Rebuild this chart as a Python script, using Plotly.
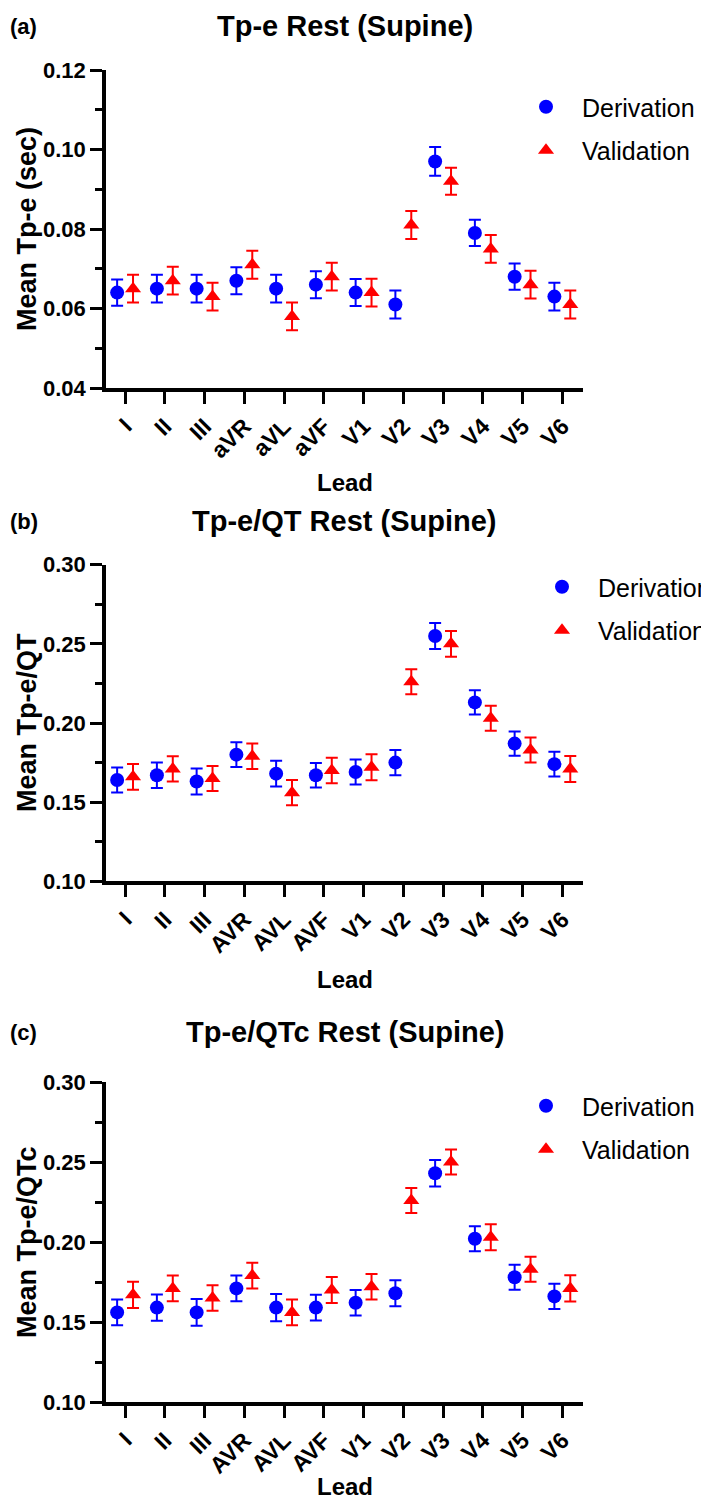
import plotly.graph_objects as go

# ---------------- data ----------------
leads_a = ["I", "II", "III", "aVR", "aVL", "aVF", "V1", "V2", "V3", "V4", "V5", "V6"]
leads_bc = ["I", "II", "III", "AVR", "AVL", "AVF", "V1", "V2", "V3", "V4", "V5", "V6"]

tpe_der = [0.064, 0.065, 0.065, 0.067, 0.065, 0.066, 0.064, 0.061, 0.097, 0.079, 0.068, 0.063]
tpe_der_err = [0.0033, 0.0035, 0.0035, 0.0034, 0.0035, 0.0034, 0.0034, 0.0035, 0.0036, 0.0033, 0.0033, 0.0035]
tpe_val = [0.065, 0.067, 0.063, 0.071, 0.058, 0.068, 0.064, 0.081, 0.092, 0.075, 0.066, 0.061]
tpe_val_err = [0.0035, 0.0035, 0.0035, 0.0035, 0.0035, 0.0035, 0.0035, 0.0035, 0.0034, 0.0035, 0.0035, 0.0035]

qt_der = [0.164, 0.167, 0.163, 0.180, 0.168, 0.167, 0.169, 0.175, 0.255, 0.213, 0.187, 0.174]
qt_der_err = [0.0079, 0.0081, 0.0082, 0.0078, 0.0081, 0.0078, 0.0079, 0.0080, 0.0082, 0.0077, 0.0077, 0.0078]
qt_val = [0.166, 0.171, 0.165, 0.179, 0.156, 0.170, 0.172, 0.226, 0.250, 0.203, 0.183, 0.171]
qt_val_err = [0.0081, 0.0080, 0.0079, 0.0081, 0.0080, 0.0080, 0.0082, 0.0079, 0.0081, 0.0079, 0.0079, 0.0082]

qtc_der = [0.156, 0.159, 0.156, 0.171, 0.159, 0.159, 0.162, 0.168, 0.243, 0.202, 0.178, 0.166]
qtc_der_err = [0.0080, 0.0082, 0.0084, 0.0081, 0.0085, 0.0081, 0.0080, 0.0081, 0.0083, 0.0078, 0.0078, 0.0079]
qtc_val = [0.167, 0.171, 0.165, 0.179, 0.156, 0.170, 0.172, 0.226, 0.250, 0.203, 0.183, 0.171]
qtc_val_err = [0.0082, 0.0080, 0.0080, 0.0081, 0.0081, 0.0081, 0.0080, 0.0078, 0.0078, 0.0081, 0.0078, 0.0082]

panels = [
    dict(tag="(a)", title="Tp-e Rest (Supine)", ytitle="Mean Tp-e (sec)", leads=leads_a,
         der=tpe_der, der_err=tpe_der_err, val=tpe_val, val_err=tpe_val_err,
         yrange=[0.04, 0.12], dtick=0.02, minor=0.01),
    dict(tag="(b)", title="Tp-e/QT Rest (Supine)", ytitle="Mean Tp-e/QT", leads=leads_bc,
         der=qt_der, der_err=qt_der_err, val=qt_val, val_err=qt_val_err,
         yrange=[0.10, 0.30], dtick=0.05, minor=0.025),
    dict(tag="(c)", title="Tp-e/QTc Rest (Supine)", ytitle="Mean Tp-e/QTc", leads=leads_bc,
         der=qtc_der, der_err=qtc_der_err, val=qtc_val, val_err=qtc_val_err,
         yrange=[0.10, 0.30], dtick=0.05, minor=0.025),
]

# ---------------- layout geometry (pixels) ----------------
W, H = 709, 1501
X0, X1 = 98, 575
panel_px = [(62, 380), (556.7, 873.3), (1074, 1394)]      # plot top/bottom
title_px = [18, 513, 1024]
lead_px = [474, 971, 1478]
legend_px = [(502, 76), (518, 556), (502, 1075)]
OFF = 0.2
FONT = "Arial, Liberation Sans, Helvetica, sans-serif"
BLUE = "#0000FF"
RED = "#FF0000"


def py(p):
    return 1 - p / H


fig = go.Figure()
annotations = []
layout = dict(
    width=W, height=H,
    margin=dict(l=0, r=0, t=0, b=0, autoexpand=False),
    paper_bgcolor="white", plot_bgcolor="white",
    font=dict(family=FONT, color="black"),
    showlegend=True,
)

for k, p in enumerate(panels):
    n = "" if k == 0 else str(k + 1)
    xa, ya = "x" + n, "y" + n
    lg = "legend" + n
    idx = list(range(len(p["leads"])))
    fig.add_trace(go.Scatter(
        x=[i - OFF for i in idx], y=p["der"], mode="markers", name="Derivation",
        xaxis=xa, yaxis=ya, legend=lg, legendgroup="d" + n,
        marker=dict(symbol="circle", size=14, color=BLUE),
        error_y=dict(type="data", array=p["der_err"], color=BLUE, thickness=2, width=6),
    ))
    fig.add_trace(go.Scatter(
        x=[i + OFF for i in idx], y=p["val"], mode="markers", name="Validation",
        xaxis=xa, yaxis=ya, legend=lg, legendgroup="v" + n,
        marker=dict(symbol="triangle-up", size=14, color=RED),
        error_y=dict(type="data", array=p["val_err"], color=RED, thickness=2, width=6),
    ))
    top, bot = panel_px[k]
    layout["xaxis" + n] = dict(
        domain=[X0 / W, X1 / W], anchor=ya, range=[-0.48, 11.52], automargin=False,
        tickmode="array", tickvals=idx, ticktext=p["leads"], tickangle=-45,
        ticks="outside", ticklen=12, tickwidth=3, tickcolor="black",
        showline=True, linewidth=3.5, linecolor="black",
        showgrid=False, zeroline=False,
        tickfont=dict(family=FONT, size=23, color="black", weight="bold"),
    )
    layout["yaxis" + n] = dict(
        domain=[py(bot), py(top)], anchor=xa, range=p["yrange"], automargin=False,
        tick0=p["yrange"][0], dtick=p["dtick"], tickformat=".2f",
        ticks="outside", ticklen=12, tickwidth=3, tickcolor="black",
        minor=dict(dtick=p["minor"], tick0=p["yrange"][0], ticks="outside",
                   ticklen=7, tickwidth=3, tickcolor="black", showgrid=False),
        showline=True, linewidth=3.5, linecolor="black",
        showgrid=False, zeroline=False,
        tickfont=dict(family=FONT, size=22, color="black", weight="bold"),
    )
    lx, ly = legend_px[k]
    layout[lg] = dict(
        x=lx / W, y=py(ly), xanchor="left", yanchor="top",
        font=dict(family=FONT, size=25, color="black"),
        bgcolor="rgba(0,0,0,0)", tracegroupgap=8, itemwidth=62,
    )
    # panel tag
    annotations.append(dict(text="<b>%s</b>" % p["tag"], x=0, y=py(title_px[k]),
                            xref="paper", yref="paper", xanchor="left", yanchor="middle",
                            showarrow=False, font=dict(family=FONT, size=22, color="black")))
    # title
    annotations.append(dict(text="<b>%s</b>" % p["title"], x=(X0 + X1) / 2 / W, y=py(title_px[k]),
                            xref="paper", yref="paper", xanchor="center", yanchor="middle",
                            showarrow=False, font=dict(family=FONT, size=29, color="black")))
    # y title
    annotations.append(dict(text="<b>%s</b>" % p["ytitle"], x=2 / W, y=py((top + bot) / 2),
                            xref="paper", yref="paper", xanchor="left", yanchor="middle",
                            textangle=-90, showarrow=False,
                            font=dict(family=FONT, size=27, color="black")))
    # x title
    annotations.append(dict(text="<b>Lead</b>", x=(X0 + X1) / 2 / W, y=py(lead_px[k]),
                            xref="paper", yref="paper", xanchor="center", yanchor="middle",
                            showarrow=False, font=dict(family=FONT, size=24, color="black")))

layout["annotations"] = annotations
fig.update_layout(**layout)
fig.write_html("out.html")
